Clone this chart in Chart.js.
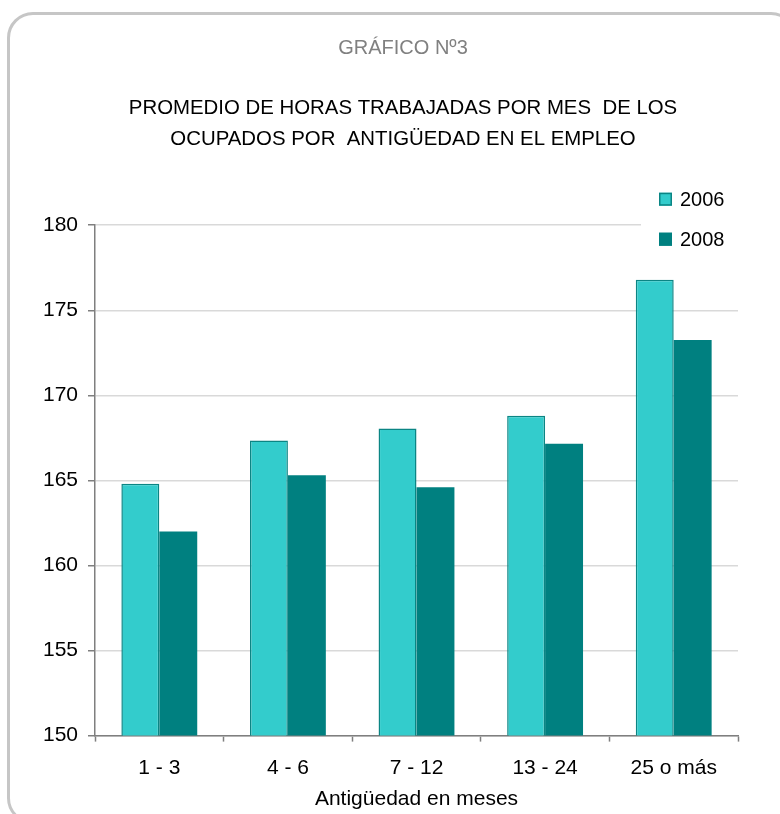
<!DOCTYPE html>
<html>
<head>
<meta charset="utf-8">
<script src="https://cdn.jsdelivr.net/npm/chart.js@4.4.1/dist/chart.umd.min.js"></script>
<style>
  html, body { margin: 0; padding: 0; background: #fff; overflow: hidden; }
  #frame {
    position: absolute; left: 7px; top: 12px; width: 790px; height: 812px;
    border: 3px solid #c6c6c6; border-radius: 26px; box-sizing: border-box;
  }
  #wrap { position: absolute; left: 0; top: 0; width: 780px; height: 814px; }
</style>
</head>
<body>
<div id="frame"></div>
<div id="wrap"><canvas id="chart"></canvas></div>
<script>
const categories = ["1 - 3", "4 - 6", "7 - 12", "13 - 24", "25 o más"];
const seriesNames = ["2006", "2008"];
const values2006 = [164.8, 167.35, 168.05, 168.8, 176.8];
const values2008 = [162.0, 165.3, 164.6, 167.15, 173.25];
const yTicks = [150, 155, 160, 165, 170, 175, 180];

const FONT = "'Liberation Sans', Arial, sans-serif";

// legend drawn by hand so it can sit over the top right corner of the plot
const cornerLegend = {
    id: "cornerLegend",
    afterDraw(chart) {
        const ctx = chart.ctx;
        const area = chart.chartArea;
        ctx.save();
        ctx.fillStyle = "#ffffff";
        ctx.fillRect(area.right - 97, area.top - 45, 97, 80);
        const rows = [area.top - 26, area.top + 14];
        chart.data.datasets.forEach((ds, i) => {
            const x = area.right - 79;
            const y = rows[i];
            ctx.fillStyle = ds.backgroundColor;
            ctx.fillRect(x, y - 6.5, 13, 13);
            ctx.strokeStyle = ds.borderColor;
            ctx.lineWidth = 1.5;
            ctx.strokeRect(x + 0.75, y - 5.75, 11.5, 11.5);
            ctx.fillStyle = "#000";
            ctx.font = "20px " + FONT;
            ctx.textBaseline = "middle";
            ctx.textAlign = "left";
            ctx.fillText(ds.label, x + 21, y + 1);
        });
        ctx.restore();
    }
};

new Chart(document.getElementById("chart"), {
    type: "bar",
    data: {
        labels: categories,
        datasets: [
            {
                label: seriesNames[0],
                data: values2006,
                backgroundColor: "#33cccc",
                borderColor: "#0b8584",
                borderWidth: 1.5,
                borderSkipped: "bottom"
            },
            {
                label: seriesNames[1],
                data: values2008,
                backgroundColor: "#008080",
                borderColor: "#008080",
                borderWidth: 0
            }
        ]
    },
    options: {
        responsive: true,
        maintainAspectRatio: false,
        animation: false,
        categoryPercentage: 0.59,
        barPercentage: 1.0,
        // titles centre a bit right of the page middle, as in the original
        layout: { padding: { left: 26, right: 0, top: 0, bottom: 2 } },
        plugins: {
            legend: { display: false },
            tooltip: { enabled: false },
            title: {
                display: true,
                text: "GRÁFICO Nº3",
                color: "#808080",
                font: { family: FONT, size: 20, weight: "normal", lineHeight: 1.2 },
                padding: { top: 36.5, bottom: 0 }
            },
            subtitle: {
                display: true,
                text: ["PROMEDIO DE HORAS TRABAJADAS POR MES  DE LOS", "OCUPADOS POR  ANTIGÜEDAD EN EL EMPLEO"],
                color: "#000",
                font: { family: FONT, size: 20.4, weight: "normal", lineHeight: 1.52 },
                padding: { top: 32.7, bottom: 70 }
            }
        },
        scales: {
            x: {
                grid: {
                    display: true,
                    offset: true,
                    drawOnChartArea: false,
                    drawTicks: true,
                    tickLength: 6,
                    tickWidth: 1.5,
                    tickColor: "#7f7f7f"
                },
                border: { display: true, color: "#7f7f7f", width: 1.5 },
                ticks: { color: "#000", font: { family: FONT, size: 21 }, padding: 14 },
                title: {
                    display: true,
                    text: "Antigüedad en meses",
                    color: "#000",
                    font: { family: FONT, size: 21 },
                    padding: { top: -8, bottom: 0 }
                }
            },
            y: {
                min: 150,
                max: 180,
                afterBuildTicks: axis => { axis.ticks = yTicks.map(v => ({ value: v })); },
                afterFit: axis => { axis.width = 69; },
                grid: {
                    color: "#d9d9d9",
                    lineWidth: 1.5,
                    drawTicks: true,
                    tickLength: 7,
                    tickColor: "#7f7f7f",
                    tickWidth: 1.5
                },
                border: { display: true, color: "#7f7f7f", width: 1.5 },
                ticks: { color: "#000", font: { family: FONT, size: 21 }, padding: 10 }
            },
            // empty right margin
            yRight: {
                position: "right",
                min: 150,
                max: 180,
                grid: { display: false },
                border: { display: false },
                ticks: { display: false },
                afterFit: axis => { axis.width = 42; }
            }
        }
    },
    plugins: [cornerLegend]
});
</script>
</body>
</html>
